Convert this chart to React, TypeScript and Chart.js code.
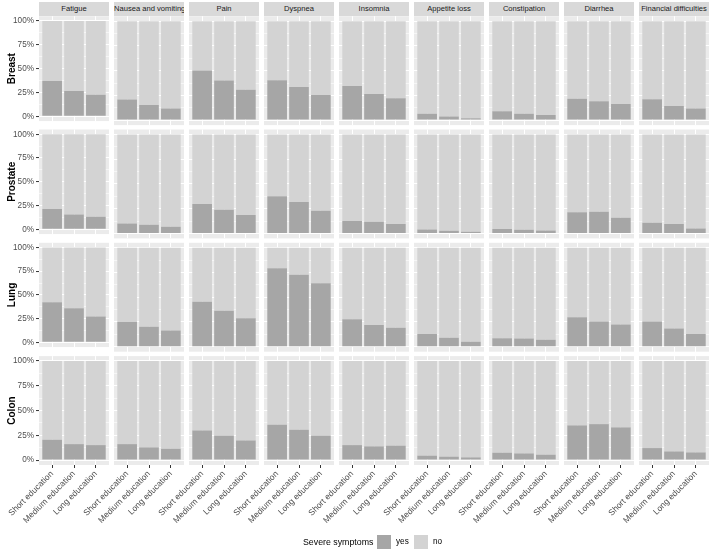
import React, { useEffect, useRef } from 'react';
import { Chart, registerables } from 'chart.js';

Chart.register(...registerables);

const FONT = '"Liberation Sans", Arial, Helvetica, sans-serif';
Chart.defaults.font.family = FONT;

// ---------- data ----------
const cancers = ['Breast', 'Prostate', 'Lung', 'Colon'];
const symptoms = [
  'Fatigue',
  'Nausea and vomiting',
  'Pain',
  'Dyspnea',
  'Insomnia',
  'Appetite loss',
  'Constipation',
  'Diarrhea',
  'Financial difficulties',
];
const educationLevels = ['Short education', 'Medium education', 'Long education'];
const yMajorTicks = [0, 25, 50, 75, 100];
const yMinorTicks = [12.5, 37.5, 62.5, 87.5];
const legendTitle = 'Severe symptoms';
const legendLabels = ['yes', 'no'];

// % with severe symptoms ("yes"), per symptom: [short, medium, long]
const breastYes = [
  [37, 26.6, 22.5],
  [20.9, 15.2, 11.8],
  [50.2, 40.1, 30.6],
  [40.4, 33.6, 25.3],
  [34.6, 26.3, 22.2],
  [6.4, 3.7, 2],
  [9.1, 6.4, 5.1],
  [21.5, 19.2, 16.2],
  [21.2, 14.4, 11.8],
];
const prostateYes = [
  [21.3, 15.5, 13.2],
  [10.1, 8.8, 6.8],
  [29.7, 24, 18.6],
  [37.5, 31.8, 23],
  [12.5, 11.8, 9.5],
  [4, 2.7, 1.7],
  [4.4, 3.7, 3],
  [21.3, 22, 15.9],
  [10.8, 9.5, 5.1],
];
const lungYes = [
  [42.4, 36, 27.2],
  [24.9, 20.2, 16.5],
  [45.4, 36.3, 28.9],
  [79.4, 72.7, 64.2],
  [27.9, 21.9, 19.2],
  [12.8, 9.1, 5],
  [8.7, 8.4, 7.1],
  [29.9, 25.6, 22.5],
  [25.6, 18.5, 12.8],
];
const colonYes = [
  [20.5, 16.1, 15.1],
  [16.1, 12.8, 11.4],
  [29.9, 24.6, 19.8],
  [35.7, 30.6, 24.6],
  [15.1, 13.8, 14.5],
  [4.4, 3.4, 2.7],
  [7.4, 6.7, 5.4],
  [35, 36.3, 33],
  [12.1, 8.7, 7.7],
];
const yesByCancer = [breastYes, prostateYes, lungYes, colonYes];

// ---------- style / layout ----------
const W = 709;
const H = 551;
const YES_COLOR = '#A6A6A6';
const NO_COLOR = '#D3D3D3';
const PANEL_BG = '#EBEBEB';
const STRIP_BG = '#D9D9D9';
const TICK_TEXT = '#4D4D4D';
const PANEL_LEFT0 = 39;
const COL_PITCH = 75;
const PANEL_W = 70;
const PANEL_TOP0 = 16.2;
const ROW_PITCH = 113.3;
const PANEL_H = 108.9;
const Y_AXIS_W = 39;

const bgPlugin = {
  id: 'panelBg',
  beforeDraw(chart: any) {
    const { ctx, chartArea } = chart;
    if (!chartArea) return;
    ctx.save();
    ctx.fillStyle = PANEL_BG;
    ctx.fillRect(chartArea.left, chartArea.top, chartArea.right - chartArea.left, chartArea.bottom - chartArea.top);
    ctx.restore();
  },
};

function Panel({ row, col }: { row: number; col: number }) {
  const ref = useRef<HTMLCanvasElement>(null);
  const left = PANEL_LEFT0 + col * COL_PITCH;
  const top = PANEL_TOP0 + row * ROW_PITCH;
  const right = left + PANEL_W;
  const bottom = top + PANEL_H;
  const isLeft = col === 0;
  const isBottom = row === cancers.length - 1;
  const cx = isLeft ? 0 : isBottom ? Math.floor(left - 62) : Math.floor(left - 2);
  const cy = Math.floor(top - 10);
  const cr = Math.min(W, Math.ceil(right + 2));
  const cb = isBottom ? H - 20 : Math.ceil(bottom + 2);
  const cw = cr - cx;
  const ch = cb - cy;
  const yW = isLeft ? Y_AXIS_W : 0;
  const xH = isBottom ? cb - bottom : 0;

  useEffect(() => {
    const canvas = ref.current;
    if (!canvas) return;
    const yes = yesByCancer[row][col];
    const chart = new Chart(canvas, {
      type: 'bar',
      data: {
        datasets: [
          {
            label: legendLabels[0],
            data: yes.map((v, i) => ({ x: i, y: v })),
            backgroundColor: YES_COLOR,
            borderWidth: 0,
            barPercentage: 0.9,
            categoryPercentage: 1,
            stack: 's',
          },
          {
            label: legendLabels[1],
            data: yes.map((v, i) => ({ x: i, y: 100 - v })),
            backgroundColor: NO_COLOR,
            borderWidth: 0,
            barPercentage: 0.9,
            categoryPercentage: 1,
            stack: 's',
          },
        ],
      },
      options: {
        responsive: false,
        animation: false,
        events: [],
        layout: {
          padding: {
            left: left - cx - yW,
            top: top - cy,
            right: cr - right,
            bottom: cb - bottom - xH,
          },
        },
        plugins: {
          legend: { display: false },
          tooltip: { enabled: false },
          title: { display: false },
        },
        scales: {
          x: {
            type: 'linear',
            min: -0.6,
            max: 2.6,
            offset: false,
            stacked: true,
            afterBuildTicks: (s: any) => {
              s.ticks = educationLevels.map((_, i) => ({ value: i }));
            },
            afterFit: (s: any) => {
              s.height = xH;
            },
            grid: {
              color: '#FFFFFF',
              lineWidth: 1,
              offset: false,
              drawTicks: isBottom,
              tickLength: 3,
              tickColor: '#333333',
              tickWidth: 1,
            },
            border: { display: false },
            ticks: {
              display: isBottom,
              autoSkip: false,
              minRotation: 45,
              maxRotation: 45,
              padding: 1,
              color: TICK_TEXT,
              font: { size: 8.5, family: FONT },
              callback: (v: any) => educationLevels[Math.round(v)] ?? '',
            },
          },
          y: {
            type: 'linear',
            min: -5,
            max: 105,
            stacked: true,
            afterBuildTicks: (s: any) => {
              s.ticks = [...yMajorTicks, ...yMinorTicks].sort((a, b) => a - b).map((v) => ({ value: v }));
            },
            afterFit: (s: any) => {
              s.width = yW;
            },
            grid: {
              color: '#FFFFFF',
              lineWidth: (c: any) => (c.tick && c.tick.value % 25 === 0 ? 1.1 : 0.55),
              drawTicks: isLeft,
              tickLength: 3,
              tickWidth: 1,
              tickColor: (c: any) => (c.tick && c.tick.value % 25 === 0 ? '#333333' : 'rgba(0,0,0,0)'),
            },
            border: { display: false },
            ticks: {
              display: isLeft,
              padding: 2,
              color: TICK_TEXT,
              font: { size: 8.2, family: FONT },
              callback: (v: any) => (Number(v) % 25 === 0 ? `${v}%` : ''),
            },
            title: {
              display: isLeft,
              text: cancers[row],
              color: '#000000',
              font: { size: 10, weight: 'bold', family: FONT },
              padding: { top: 6, bottom: 0 },
            },
          },
        },
      } as any,
      plugins: [bgPlugin],
    });
    return () => chart.destroy();
  }, [row, col]);

  return (
    <canvas
      ref={ref}
      width={cw}
      height={ch}
      style={{ position: 'absolute', left: cx, top: cy, width: cw, height: ch }}
    />
  );
}

export default function App() {
  const panels: React.ReactNode[] = [];
  cancers.forEach((_, r) => {
    symptoms.forEach((__, c) => {
      panels.push(<Panel key={`${r}-${c}`} row={r} col={c} />);
    });
  });

  return (
    <div
      style={{
        position: 'absolute',
        left: 0,
        top: 0,
        width: W,
        height: H,
        background: '#FFFFFF',
        overflow: 'hidden',
        fontFamily: FONT,
      }}
    >
      {symptoms.map((s, c) => (
        <div
          key={s}
          style={{
            position: 'absolute',
            left: PANEL_LEFT0 + c * COL_PITCH,
            top: 1.5,
            width: PANEL_W,
            height: 14.5,
            background: STRIP_BG,
            color: '#1A1A1A',
            fontSize: 7.6,
            lineHeight: '14.5px',
            textAlign: 'center',
            whiteSpace: 'nowrap',
            overflow: 'hidden',
          }}
        >
          {s}
        </div>
      ))}
      {panels}
      <div style={{ position: 'absolute', left: 303, top: 536, fontSize: 8.8, lineHeight: '12px', color: '#000' }}>
        {legendTitle}
      </div>
      <div style={{ position: 'absolute', left: 377, top: 535, width: 14, height: 14, background: YES_COLOR }} />
      <div style={{ position: 'absolute', left: 396, top: 536, fontSize: 8.2, lineHeight: '12px', color: '#000' }}>
        {legendLabels[0]}
      </div>
      <div style={{ position: 'absolute', left: 414, top: 535, width: 14, height: 14, background: NO_COLOR }} />
      <div style={{ position: 'absolute', left: 433, top: 536, fontSize: 8.2, lineHeight: '12px', color: '#000' }}>
        {legendLabels[1]}
      </div>
    </div>
  );
}
